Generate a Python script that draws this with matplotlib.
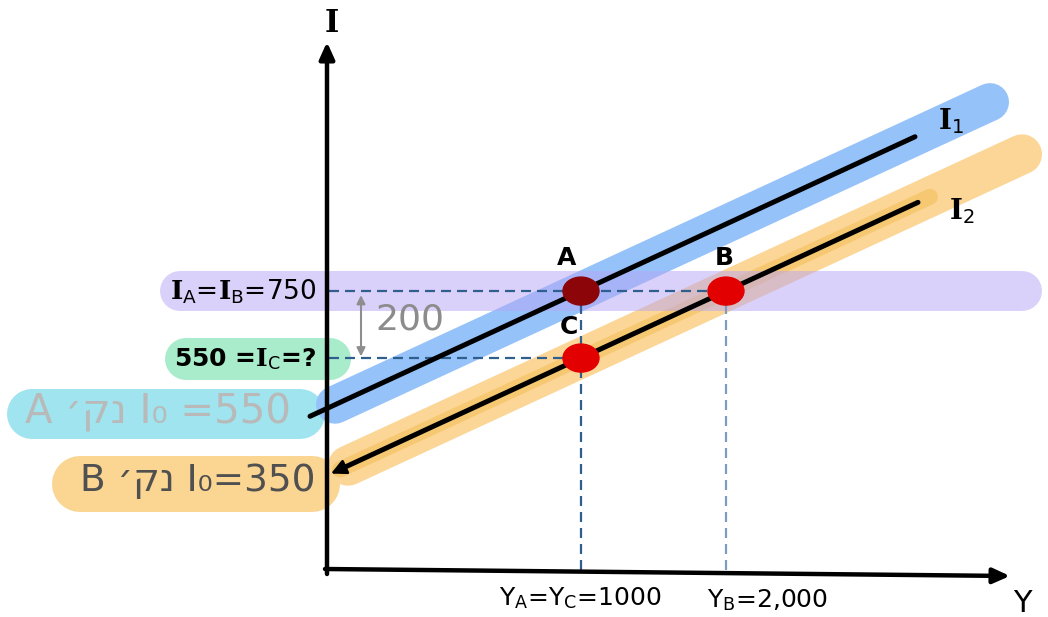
import matplotlib
matplotlib.use("Agg")
import matplotlib.pyplot as plt
from matplotlib.patches import Ellipse
import numpy as np

# ---------------- data ----------------
curves = ["$\\mathbf{I}$$_{\\mathsf{1}}$", "$\\mathbf{I}$$_{\\mathsf{2}}$"]
I0 = [550, 350]                 # intercepts of I1 and I2
mpi = 0.2                       # slope of both investment lines
points = ["A", "B", "C"]
Y_pts = [1000, 2000, 1000]
I_pts = [750, 750, 550]
point_colors = ["#8c0508", "#e30000", "#e30000"]
I_AB = 750
I_C = 550
gap = 200

plt.rcParams["font.family"] = ["DejaVu Sans"]
plt.rcParams["mathtext.fontset"] = "dejavuserif"

W, H = 1048, 617
fig = plt.figure(figsize=(W / 100, H / 100), dpi=100)
ax = fig.add_axes([0, 0, 1, 1])
XMIN, XMAX = -3007, 4221
YMIN, YMAX = -223, 1619
ax.set_xlim(XMIN, XMAX)
ax.set_ylim(YMIN, YMAX)
ax.axis("off")


def dx(px):
    return XMIN + px * (XMAX - XMIN) / W


def dy(py):
    return YMAX - py * (YMAX - YMIN) / H


def f(px, py):
    return (px / W, 1 - py / H)


def line_I(i, Y):
    Y = np.asarray(Y, dtype=float)
    return I0[i] + mpi * Y


PT = 0.72  # points per pixel

# ---- highlight strokes behind left labels ----
def brush(x1, x2, yc, hpx, color, z=1, alpha=1.0):
    ax.plot([x1 / W, x2 / W], [1 - yc / H, 1 - yc / H], transform=ax.transAxes,
            lw=hpx * PT, color=color, solid_capstyle="round", zorder=z, alpha=alpha)

brush(32, 300, 414, 50, "#9fe4ee")
brush(80, 312, 484, 56, "#fbd592")
brush(186, 330, 359, 42, "#a9eccb")

# ---- bands along the curves ----
Yb = [dx(335), dx(990)]
ax.plot(Yb, line_I(0, Yb), lw=38 * PT, color="#95c2f9", solid_capstyle="round", zorder=2)
Yo = [dx(348), dx(1022)]
ax.plot(Yo, line_I(1, Yo), lw=40 * PT, color="#fbd697", solid_capstyle="round", zorder=2)
Yi = [dx(340), dx(930)]
ax.plot(Yi, line_I(1, Yi), lw=16 * PT, color="#f6c466", solid_capstyle="round", zorder=2, alpha=0.75)

# horizontal purple band at I_A = I_B
ax.plot([dx(180), dx(1022)], [I_AB, I_AB], lw=40 * PT, color="#b7a5f6", alpha=0.5,
        solid_capstyle="round", zorder=3)

# ---- dashed guide lines ----
Yaxis = dx(329)
Iaxis = dy(570)
dash = (0, (4.5, 2.7))
ax.plot([Yaxis, Y_pts[1]], [I_AB, I_AB], ls=dash, lw=1.6, color="#2f5f8f", zorder=4)
ax.plot([Yaxis, Y_pts[2]], [I_C, I_C], ls=dash, lw=1.6, color="#2f5f8f", zorder=4)
ax.plot([Y_pts[0], Y_pts[0]], [Iaxis, I_pts[0]], ls=dash, lw=1.6, color="#2f5f8f", zorder=4)
ax.plot([Y_pts[1], Y_pts[1]], [Iaxis, I_pts[1]], ls=dash, lw=1.6, color="#7d9cc0", zorder=4)

# ---- black investment lines ----
Y1 = [dx(310), dx(915)]
ax.plot(Y1, line_I(0, Y1), lw=3.6, color="black", solid_capstyle="round", zorder=5)
Y2 = [dx(345), dx(918)]
ax.plot(Y2, line_I(1, Y2), lw=3.6, color="black", solid_capstyle="round", zorder=5)
ya, yb = dx(331), dx(365)
ax.annotate("", xy=(ya, line_I(1, ya)), xytext=(yb, line_I(1, yb)),
            arrowprops=dict(arrowstyle="-|>,head_length=0.9,head_width=0.45",
                            color="black", lw=2, shrinkA=0, shrinkB=0), zorder=5)

# curve labels
ax.text(*f(951, 121), curves[0], transform=ax.transAxes, fontsize=20,
        ha="center", va="center", zorder=7)
ax.text(*f(962, 211), curves[1], transform=ax.transAxes, fontsize=20,
        ha="center", va="center", zorder=7)

# ---- points ----
ew = 36 * (XMAX - XMIN) / W
eh = 28 * (YMAX - YMIN) / H
for name, yv, iv, c in zip(points, Y_pts, I_pts, point_colors):
    ax.add_patch(Ellipse((yv, iv), ew, eh, color=c, zorder=6))
label_off = {"A": (-14, -33), "B": (-2, -33), "C": (-12, -31)}
for name, yv, iv in zip(points, Y_pts, I_pts):
    ox, oy = label_off[name]
    ax.annotate(name, xy=(yv, iv), xytext=(ox * PT, -oy * PT), textcoords="offset points",
                fontsize=18, fontweight="bold", ha="center", va="center", zorder=7)

# ---- axes arrows ----
ax.annotate("", xy=f(327, 42), xytext=f(327, 574), xycoords="axes fraction",
            textcoords="axes fraction",
            arrowprops=dict(arrowstyle="-|>,head_length=1.0,head_width=0.45",
                            color="black", lw=3.2, shrinkA=0, shrinkB=0), zorder=6)
ax.annotate("", xy=f(1010, 576), xytext=f(325, 569), xycoords="axes fraction",
            textcoords="axes fraction",
            arrowprops=dict(arrowstyle="-|>,head_length=1.0,head_width=0.45",
                            color="black", lw=3.2, shrinkA=0, shrinkB=0), zorder=6)
ax.text(*f(331, 23), r"$\mathbf{I}$", transform=ax.transAxes, fontsize=22,
        ha="center", va="center")
ax.text(*f(1022, 603), "Y", transform=ax.transAxes, fontsize=22,
        ha="center", va="center")

# ---- value labels ----
ax.text(*f(243, 292), r"$\mathbf{I}$$_{\mathsf{A}}$=$\mathbf{I}$$_{\mathsf{B}}$=750",
        transform=ax.transAxes, fontsize=19, ha="center", va="center", zorder=7)
ax.text(*f(245, 359), r"550 =$\mathbf{I}$$_{\mathsf{C}}$=?", transform=ax.transAxes,
        fontsize=18, fontweight="bold", ha="center", va="center", zorder=7)
ax.text(*f(158, 412), "A \u05f3\u05e7\u05e0 I\u2080 =550", transform=ax.transAxes,
        fontsize=29, color="#b9b9b9", ha="center", va="center", zorder=7)
ax.text(*f(198, 481), "B \u05f3\u05e7\u05e0 I\u2080=350", transform=ax.transAxes,
        fontsize=27, color="#505050", ha="center", va="center", zorder=7)
ax.text(*f(580, 598), r"Y$_{\mathsf{A}}$=Y$_{\mathsf{C}}$=1000", transform=ax.transAxes,
        fontsize=18, ha="center", va="center")
ax.text(*f(768, 600), r"Y$_{\mathsf{B}}$=2,000", transform=ax.transAxes,
        fontsize=18, ha="center", va="center")

# ---- 200 gap marker ----
ax.annotate("", xy=(dx(361), I_AB - 12), xytext=(dx(361), I_C + 5),
            arrowprops=dict(arrowstyle="<|-|>,head_length=0.5,head_width=0.25",
                            color="#8e8e8e", lw=1.5, shrinkA=0, shrinkB=0), zorder=7)
ax.text(dx(375), (I_AB + I_C) / 2 + 15, str(gap), fontsize=26, color="#8c8c8c",
        ha="left", va="center", zorder=7)

fig.savefig("out.png", dpi=100)
